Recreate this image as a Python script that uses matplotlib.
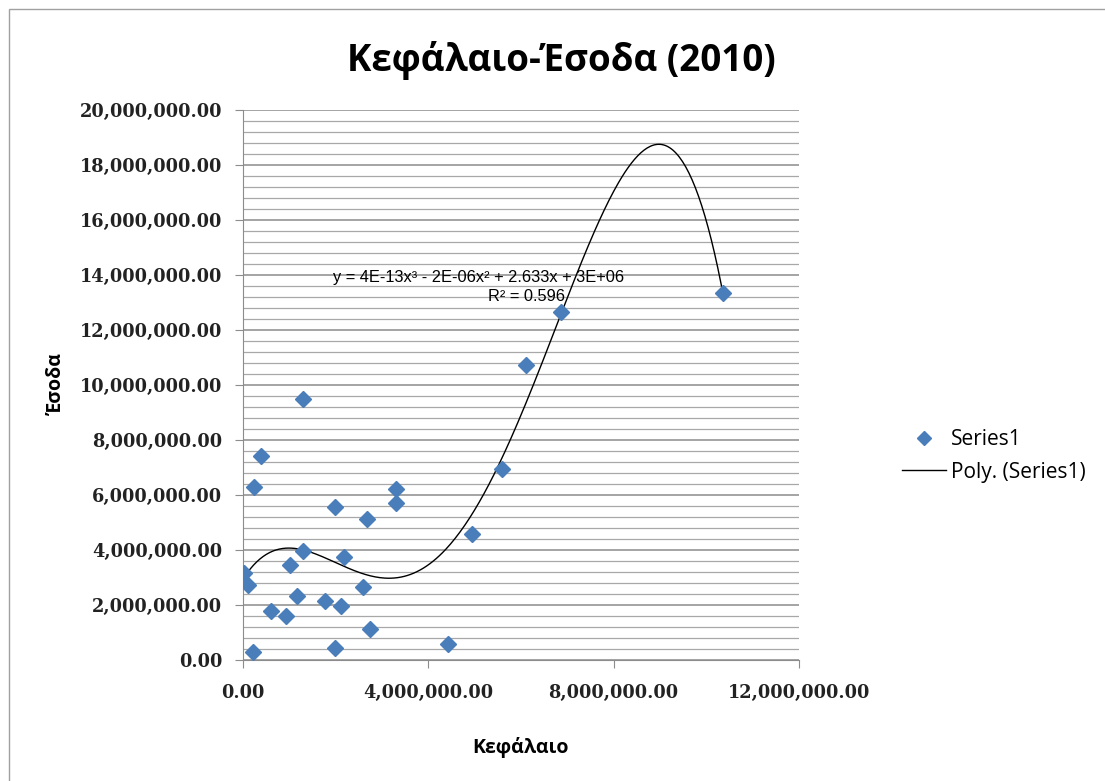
import numpy as np
import matplotlib
matplotlib.use('Agg')
import matplotlib.pyplot as plt
from matplotlib.ticker import MultipleLocator, FuncFormatter
from matplotlib.lines import Line2D
from matplotlib.patches import Rectangle

# data (Κεφάλαιο, Έσοδα)
capital = [0.02e6, 0.11e6, 0.22e6, 0.24e6, 0.38e6, 0.60e6, 0.92e6, 1.01e6, 1.16e6,
           1.30e6, 1.30e6, 1.78e6, 1.99e6, 1.99e6, 2.12e6, 2.17e6, 2.58e6, 2.68e6,
           2.75e6, 3.30e6, 3.31e6, 4.43e6, 4.95e6, 5.60e6, 6.11e6, 6.86e6, 10.35e6]
income = [3.17e6, 2.72e6, 0.29e6, 6.28e6, 7.42e6, 1.78e6, 1.60e6, 3.47e6, 2.33e6,
          9.49e6, 3.96e6, 2.15e6, 5.56e6, 0.45e6, 1.96e6, 3.75e6, 2.65e6, 5.12e6,
          1.12e6, 6.23e6, 5.70e6, 0.57e6, 4.57e6, 6.93e6, 10.72e6, 12.67e6, 13.36e6]

title = 'Κεφάλαιο-Έσοδα (2010)'
x_label = 'Κεφάλαιο'
y_label = 'Έσοδα'
eq_text = 'y = 4E-13x³ - 2E-06x² + 2.633x + 3E+06'
r2_text = 'R² = 0.596'

W, H = 1105, 781
fig = plt.figure(figsize=(W/100, H/100), dpi=100)
fig.patch.set_facecolor('white')

def fx(px):
    return px / W

def fy(py):
    return 1 - py / H

# outer chart border
fig.add_artist(Rectangle((fx(9), -0.1), 1.2, fy(9) + 0.1, transform=fig.transFigure,
                         fill=False, edgecolor='#a0a0a0', lw=1))

ax = fig.add_axes([fx(243), fy(660), 556/W, 550/H])

x = np.array(capital)
y = np.array(income)

# trend line (polynomial fit)
coef = np.polyfit(x, y, 4)
xs = np.linspace(x.min(), x.max(), 300)
ax.plot(xs, np.polyval(coef, xs), color='black', lw=1.0, zorder=3)

ax.plot(x, y, linestyle='none', marker='D', markersize=8.5, color='#4a7ebb', zorder=4)

ax.set_xlim(0, 12e6)
ax.set_ylim(0, 20e6)
ax.xaxis.set_major_locator(MultipleLocator(4e6))
ax.yaxis.set_major_locator(MultipleLocator(2e6))
ax.yaxis.set_minor_locator(MultipleLocator(0.4e6))
fmt = FuncFormatter(lambda v, p: '{:,.2f}'.format(v))
ax.xaxis.set_major_formatter(fmt)
ax.yaxis.set_major_formatter(fmt)

ax.grid(axis='y', which='major', color='#8c8c8c', lw=1.1)
ax.grid(axis='y', which='minor', color='#a8a8a8', lw=0.9)
ax.set_axisbelow(True)

for s in ('top', 'right'):
    ax.spines[s].set_visible(False)
for s in ('left', 'bottom'):
    ax.spines[s].set_color('#8c8c8c')

ax.tick_params(axis='y', which='major', length=6, color='#8c8c8c', pad=9, direction='out')
ax.tick_params(axis='y', which='minor', length=0)
ax.tick_params(axis='x', which='major', length=6, color='#8c8c8c', pad=11, direction='out')
for lab in ax.get_yticklabels() + ax.get_xticklabels():
    lab.set_fontfamily('DejaVu Serif')
    lab.set_fontweight('bold')
    lab.set_fontsize(12.8)
    lab.set_color('#222222')

fig.text(fx(333), fy(278), eq_text, fontsize=11.8, family='Liberation Sans',
         va='center', ha='left')
fig.text(fx(565), fy(297), r2_text, fontsize=11.8, family='Liberation Sans',
         va='center', ha='right')

fig.text(fx(561), fy(60), title, fontsize=26.5, fontweight='bold', family='Open Sans',
         ha='center', va='center')
fig.text(fx(520), fy(748), x_label, fontsize=14, fontweight='bold', family='Open Sans',
         ha='center', va='center')
fig.text(fx(57), fy(384), y_label, fontsize=14, fontweight='bold', family='Open Sans',
         ha='center', va='center', rotation=90)

handles = [Line2D([], [], linestyle='none', marker='D', markersize=7, color='#4a7ebb'),
           Line2D([], [], color='black', lw=1.0)]
fig.legend(handles, ['Series1', 'Poly. (Series1)'], loc='center left',
           bbox_to_anchor=(fx(902), fy(456)), frameon=False, handlelength=2.1,
           handletextpad=0.25, labelspacing=0.55, borderaxespad=0, borderpad=0,
           prop={'family': 'Open Sans', 'size': 15})

fig.savefig('out.png', dpi=100)
